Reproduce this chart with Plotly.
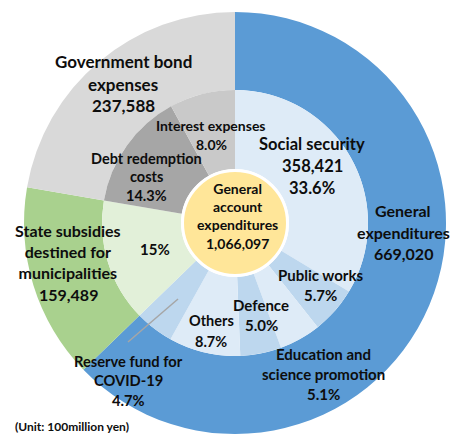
import plotly.graph_objects as go

W, H = 454, 434

# ---- data ----
total_label = "General account expenditures"
total_value = 1066097

outer_labels = ["General expenditures", "State subsidies destined for municipalities", "Government bond expenses"]
outer_values = [669020, 159489, 237588]
outer_colors = ["#5b9bd5", "#a9d18e", "#d9d9d9"]

inner_labels = ["Social security", "Public works", "Education and science promotion", "Defence",
                "Others", "Reserve fund for COVID-19", "State subsidies destined for municipalities",
                "Debt redemption costs", "Interest expenses"]
inner_values = [358421, 60695, 53969, 53235, 92700, 50000, 159489, 152537, 85051]
inner_pct = ["33.6%", "5.7%", "5.1%", "5.0%", "8.7%", "4.7%", "15%", "14.3%", "8.0%"]
inner_colors = ["#deebf7", "#bdd7ee", "#deebf7", "#bdd7ee", "#deebf7", "#bdd7ee",
                "#e2f0d9", "#a6a6a6", "#c9c9c9"]

unit_note = "(Unit: 100million yen)"

# ---- geometry (pixels) ----
CX, CY = 235, 223
R_OUT, R_IN, R_CORE = 211, 133, 54


def domain(r):
    return dict(x=[(CX - r) / W, (CX + r) / W],
                y=[max(0.0, 1 - (CY + r) / H), 1 - (CY - r) / H])


def fmt(v):
    return f"{v:,}"


fig = go.Figure()
fig.add_trace(go.Pie(labels=outer_labels, values=outer_values, sort=False, direction="clockwise",
                     rotation=0, hole=R_IN / R_OUT, domain=domain(R_OUT),
                     marker=dict(colors=outer_colors, line=dict(width=0)),
                     textinfo="none", hoverinfo="label+value", showlegend=False))
fig.add_trace(go.Pie(labels=inner_labels, values=inner_values, sort=False, direction="clockwise",
                     rotation=0, hole=R_CORE / R_IN, domain=domain(R_IN),
                     marker=dict(colors=inner_colors, line=dict(width=0)),
                     textinfo="none", hoverinfo="label+value", showlegend=False))
fig.add_trace(go.Pie(labels=[total_label], values=[total_value], sort=False,
                     domain=domain(R_CORE - 1.5),
                     marker=dict(colors=["#ffe699"], line=dict(color="white", width=3)),
                     textinfo="none", hoverinfo="label+value", showlegend=False))

TXT = "#0d0d0d"
FONT = "Lato"
ann = []


def label(lines, x, ys, size):
    """One annotation per entry; an entry may hold several lines joined by <br>."""
    for t, y in zip(lines, ys):
        ann.append(dict(text=f"<b>{t}</b>", x=x / W, y=1 - y / H, xref="paper", yref="paper",
                        xanchor="center", yanchor="middle", showarrow=False,
                        font=dict(family=FONT, size=size, color=TXT)))


label(["Government bond", "expenses", fmt(outer_values[2])], 123, [62, 84, 106], 17)
label(["Interest expenses", inner_pct[8]], 211, [126, 144], 14)
label(["Debt redemption", "costs", inner_pct[7]], 146, [158, 177, 195], 14.5)
label(["Social security", fmt(inner_values[0]), inner_pct[0]], 312, [144, 166, 188], 16.5)
label(["General", "expenditures", fmt(outer_values[0])], 403, [210, 232, 253], 16)
label(["State subsidies<br>destined for<br>municipalities", fmt(outer_values[1])], 68,
      [251, 294], 16)
label([inner_pct[6]], 155, [249], 15)
label(["General<br>account<br>expenditures<br>" + fmt(total_value)], 238, [216], 14)
label(["Public works", inner_pct[1]], 320, [275, 295], 15)
label(["Defence", inner_pct[3]], 261, [305, 325], 15)
label(["Others", inner_pct[4]], 211, [320, 341], 14.5)
label(["Education and", "science promotion", inner_pct[2]], 323, [354, 374, 394], 15)
label(["Reserve fund for", "COVID-19", inner_pct[5]], 128, [361, 380, 400], 14.7)
label([unit_note], 72, [426], 12)

fig.update_layout(
    width=W, height=H, margin=dict(l=0, r=0, t=0, b=0),
    paper_bgcolor="white", plot_bgcolor="white",
    annotations=ann,
    shapes=[dict(type="line", xref="paper", yref="paper",
                 x0=128 / W, y0=1 - 342 / H, x1=178 / W, y1=1 - 299 / H,
                 line=dict(color="#a6a6a6", width=1.5))],
)

fig.write_html("out.html")
